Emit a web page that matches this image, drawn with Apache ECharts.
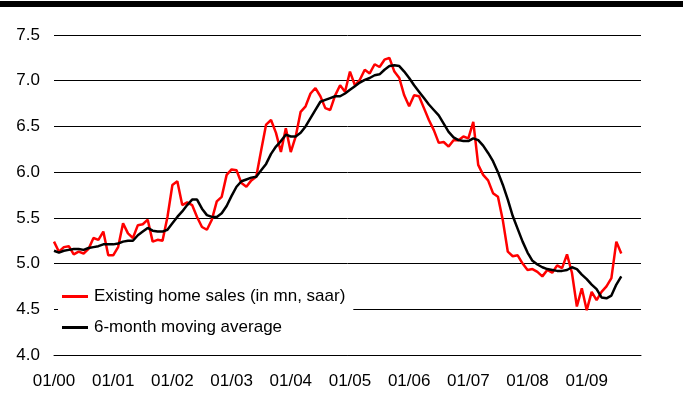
<!DOCTYPE html>
<html>
<head>
<meta charset="utf-8">
<script src="https://cdn.jsdelivr.net/npm/echarts@6/dist/echarts.min.js"></script>
<style>
  html, body { margin: 0; padding: 0; background: #fff; }
  #chart { width: 683px; height: 405px; }
</style>
</head>
<body>
<div id="chart"></div>
<script>
// Existing home sales, monthly, Jan 2000 - Aug 2009 (mn units, saar)
const homeSales = [
  5.24, 5.13, 5.18, 5.19, 5.10, 5.13, 5.11, 5.16, 5.28, 5.26, 5.35, 5.09,
  5.09, 5.18, 5.44, 5.33, 5.28, 5.42, 5.43, 5.48, 5.24, 5.26, 5.25, 5.51,
  5.86, 5.90, 5.64, 5.67, 5.64, 5.51, 5.40, 5.37, 5.48, 5.68, 5.73, 5.97,
  6.03, 6.02, 5.88, 5.84, 5.91, 5.95, 6.24, 6.52, 6.57, 6.43, 6.22, 6.48,
  6.22, 6.39, 6.66, 6.72, 6.86, 6.92, 6.83, 6.70, 6.68, 6.84, 6.95, 6.88,
  7.10, 6.95, 7.01, 7.12, 7.08, 7.18, 7.15, 7.23, 7.25, 7.10, 7.03, 6.84,
  6.72, 6.84, 6.83, 6.70, 6.57, 6.46, 6.32, 6.33, 6.28, 6.35, 6.35, 6.39,
  6.37, 6.55, 6.08, 5.97, 5.91, 5.77, 5.73, 5.47, 5.13, 5.08, 5.09, 5.00,
  4.93, 4.94, 4.91, 4.86, 4.93, 4.90, 4.98, 4.95, 5.10, 4.90, 4.53, 4.73,
  4.49, 4.69, 4.60, 4.69, 4.75, 4.84, 5.24, 5.11
];

// 6-month moving average, same months
const movingAvg = [
  5.14, 5.12, 5.14, 5.15, 5.16, 5.16, 5.15, 5.17, 5.18, 5.19, 5.21, 5.21,
  5.21, 5.22, 5.24, 5.25, 5.25, 5.31, 5.35, 5.39, 5.36, 5.35, 5.35, 5.37,
  5.44, 5.51, 5.57, 5.64, 5.70, 5.70, 5.60, 5.53, 5.51, 5.51, 5.55, 5.63,
  5.74, 5.84, 5.90, 5.92, 5.94, 5.95, 6.02, 6.09, 6.20, 6.28, 6.34, 6.41,
  6.39, 6.39, 6.43, 6.50, 6.59, 6.68, 6.77, 6.79, 6.81, 6.83, 6.83, 6.86,
  6.90, 6.94, 6.98, 7.01, 7.03, 7.06, 7.07, 7.12, 7.16, 7.17, 7.16, 7.10,
  7.03, 6.95, 6.88, 6.81, 6.74, 6.68, 6.62, 6.53, 6.44, 6.38, 6.35, 6.34,
  6.34, 6.37, 6.35, 6.29, 6.21, 6.12, 6.00, 5.86, 5.70, 5.52, 5.38, 5.24,
  5.12, 5.03, 4.99, 4.96, 4.94, 4.93, 4.92, 4.92, 4.93, 4.96, 4.94, 4.88,
  4.83, 4.77, 4.72, 4.63, 4.62, 4.65, 4.77, 4.86
];

// Year labels shown on the time axis (every January)
const yearLabels = ['00', '01', '02', '03', '04', '05', '06', '07', '08', '09'];

// Axis runs over whole years 2000-2009, one category per month
const months = [];
yearLabels.forEach(function (yy) {
  for (let m = 1; m <= 12; m++) {
    months.push((m < 10 ? '0' + m : '' + m) + '/' + yy);
  }
});

const seriesNames = ['Existing home sales (in mn, saar)', '6-month moving average'];

const FONT = '"Liberation Sans", Arial, sans-serif';
const FONT_SIZE = 17;

const chart = echarts.init(document.getElementById('chart'), null, { renderer: 'canvas' });

chart.setOption({
  animation: false,
  backgroundColor: '#ffffff',
  grid: { left: 54, right: 42, top: 35, bottom: 50, containLabel: false },
  graphic: [
    { type: 'rect', left: 0, top: 1, shape: { width: 683, height: 6 }, style: { fill: '#000' }, z: 10 }
  ],
  legend: {
    orient: 'vertical',
    left: 58,
    top: 283,
    padding: [5, 8, 5, 4],
    backgroundColor: '#ffffff',
    itemGap: 14,
    itemWidth: 26,
    itemHeight: 3,
    icon: 'rect',
    textStyle: { fontFamily: FONT, fontSize: FONT_SIZE, color: '#000', padding: [0, 0, 0, 1] },
    data: seriesNames,
    z: 5
  },
  xAxis: {
    type: 'category',
    data: months,
    boundaryGap: false,
    axisLine: { show: true, lineStyle: { color: '#000', width: 1 } },
    axisTick: { show: false },
    splitLine: { show: false },
    axisLabel: {
      interval: function (idx) { return idx % 12 === 0; },
      formatter: function (v) { return v; },
      color: '#000',
      fontFamily: FONT,
      fontSize: FONT_SIZE,
      margin: 18
    }
  },
  yAxis: {
    type: 'value',
    min: 4.0,
    max: 7.5,
    interval: 0.5,
    axisLine: { show: false },
    axisTick: { show: false },
    splitLine: { show: true, lineStyle: { color: '#000', width: 1 } },
    axisLabel: {
      formatter: function (v) { return v.toFixed(1); },
      color: '#000',
      fontFamily: FONT,
      fontSize: FONT_SIZE,
      margin: 14
    }
  },
  series: [
    {
      name: seriesNames[0],
      type: 'line',
      data: homeSales,
      showSymbol: false,
      symbol: 'none',
      lineStyle: { color: '#ff0000', width: 2.5 },
      itemStyle: { color: '#ff0000' },
      z: 2
    },
    {
      name: seriesNames[1],
      type: 'line',
      data: movingAvg,
      showSymbol: false,
      symbol: 'none',
      lineStyle: { color: '#000000', width: 2.5 },
      itemStyle: { color: '#000000' },
      z: 3
    }
  ]
});
</script>
</body>
</html>
